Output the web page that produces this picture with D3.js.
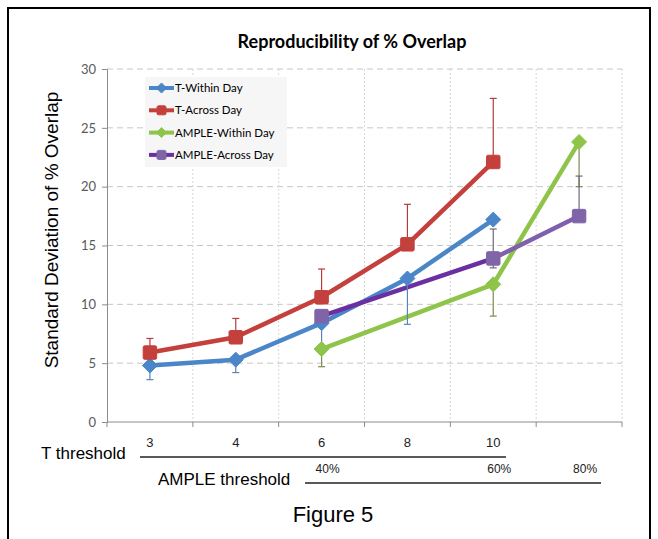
<!DOCTYPE html>
<html><head><meta charset="utf-8">
<script src="https://cdn.jsdelivr.net/npm/d3@7"></script>
<style>
html,body{margin:0;padding:0;background:#fff;}
svg{display:block;}
</style></head>
<body>
<svg id="chart" width="658" height="539"></svg>
<script>
// ---- data ----
const slotCount = 6;
const tLabels = ["3", "4", "6", "8", "10"];
const tSlots = [0, 1, 2, 3, 4];
const ampleLabels = ["40%", "60%", "80%"];
const ampleSlots = [2, 4, 5];
const yTicks = [0, 5, 10, 15, 20, 25, 30];

const tWithin = [4.8, 5.3, 8.4, 12.2, 17.2];
const tWithinMinus = [1.2, 1.1, 2.2, 3.9, 0];
const tAcross = [5.9, 7.2, 10.6, 15.1, 22.1];
const tAcrossPlus = [1.2, 1.6, 2.4, 3.4, 5.4];
const ampleWithin = [6.2, 11.7, 23.8];
const ampleWithinMinus = [1.5, 2.7, 3.8];
const ampleAcross = [9.0, 13.9, 17.5];
const ampleAcrossPlus = [0, 2.5, 3.4];
const ampleAcrossMinus = [0, 0.8, 0];

const seriesNames = ["T-Within Day", "T-Across Day", "AMPLE-Within Day", "AMPLE-Across Day"];

const series = [
  {name: seriesNames[0], slots: tSlots, values: tWithin, plus: null, minus: tWithinMinus,
   line: "#4a86c8", marker: "#4a86c8", err: "#5a84b8", shape: "diamond"},
  {name: seriesNames[1], slots: tSlots, values: tAcross, plus: tAcrossPlus, minus: null,
   line: "#c4403d", marker: "#c4403d", err: "#b83a3a", shape: "square"},
  {name: seriesNames[2], slots: ampleSlots, values: ampleWithin, plus: null, minus: ampleWithinMinus,
   line: "#8fc44a", marker: "#8fc44a", err: "#7f8a50", shape: "diamond"},
  {name: seriesNames[3], slots: ampleSlots, values: ampleAcross, plus: ampleAcrossPlus, minus: ampleAcrossMinus,
   line: "#6a30a2", marker: "#8064a8", err: "#6a6a7a", shape: "square", line2: "#7e60ac"}
];

// ---- layout ----
const svg = d3.select("#chart");
const L = 107, R = 622, T = 69, B = 422;

const x = d3.scaleBand().domain(d3.range(slotCount)).range([L, R]).padding(0);
const cx = i => x(i) + x.bandwidth() / 2;
const y = d3.scaleLinear().domain([0, 30]).range([B, T]);

// outer frame
svg.append("rect").attr("x", 8).attr("y", 8).attr("width", 642).attr("height", 545)
  .attr("fill", "none").attr("stroke", "#000").attr("stroke-width", 2);

// title
svg.append("text").attr("x", 352).attr("y", 48).attr("text-anchor", "middle")
  .attr("font-family", "Lato, 'Open Sans', sans-serif").attr("font-weight", "bold")
  .attr("font-size", 18).attr("fill", "#000").text("Reproducibility of % Overlap");

// gridlines
const grid = svg.append("g");
grid.selectAll("line.h").data(yTicks.filter(d => d > 0)).join("line")
  .attr("x1", L).attr("x2", R).attr("y1", d => y(d)).attr("y2", d => y(d))
  .attr("stroke", "#c6c6c6").attr("stroke-width", 1).attr("stroke-dasharray", "6,4");
grid.selectAll("line.v").data(d3.range(1, slotCount + 1)).join("line")
  .attr("x1", d => d < slotCount ? x(d) : R).attr("x2", d => d < slotCount ? x(d) : R)
  .attr("y1", T).attr("y2", B)
  .attr("stroke", "#d6d6d6").attr("stroke-width", 1).attr("stroke-dasharray", "2,2");

// y axis
const yAxis = svg.append("g").attr("transform", `translate(${L},0)`)
  .call(d3.axisLeft(y).tickValues(yTicks).tickSize(5).tickPadding(6));
yAxis.select(".domain").attr("stroke", "#8c8c8c");
yAxis.selectAll(".tick line").attr("stroke", "#8c8c8c");
yAxis.selectAll(".tick text").attr("font-family", "Lato, sans-serif").attr("font-size", 13).attr("fill", "#595959");

// x axis line and ticks
svg.append("line").attr("x1", L).attr("x2", R).attr("y1", B).attr("y2", B).attr("stroke", "#8c8c8c");
svg.selectAll("line.xt").data(d3.range(0, slotCount + 1)).join("line")
  .attr("x1", d => d < slotCount ? x(d) : R).attr("x2", d => d < slotCount ? x(d) : R)
  .attr("y1", B).attr("y2", B + 5).attr("stroke", "#8c8c8c");

// y axis title
svg.append("text").attr("transform", "translate(58,230) rotate(-90)").attr("text-anchor", "middle")
  .attr("font-family", "'Liberation Sans', Arial, sans-serif").attr("font-size", 19).attr("fill", "#000")
  .text("Standard Deviation of % Overlap");

// series lines
const lineGen = d3.line().x(d => cx(d.slot)).y(d => y(d.v));
series.forEach(s => {
  const pts = s.values.map((v, i) => ({slot: s.slots[i], v}));
  for (let i = 0; i < pts.length - 1; i++) {
    const col = (s.line2 && i === pts.length - 2) ? s.line2 : s.line;
    svg.append("path").datum([pts[i], pts[i + 1]]).attr("d", lineGen)
      .attr("fill", "none").attr("stroke", col).attr("stroke-width", 4.5).attr("stroke-linecap", "round");
  }
});

// error bars
series.forEach(s => {
  s.values.forEach((v, i) => {
    const px = cx(s.slots[i]);
    const lo = s.minus ? v - s.minus[i] : v;
    const hi = s.plus ? v + s.plus[i] : v;
    if (hi === lo) return;
    const g = svg.append("g").attr("stroke", s.err).attr("stroke-width", 1.2);
    g.append("line").attr("x1", px).attr("x2", px).attr("y1", y(hi)).attr("y2", y(lo));
    if (hi > v) g.append("line").attr("x1", px - 3.5).attr("x2", px + 3.5).attr("y1", y(hi)).attr("y2", y(hi));
    if (lo < v) g.append("line").attr("x1", px - 3.5).attr("x2", px + 3.5).attr("y1", y(lo)).attr("y2", y(lo));
  });
});

// markers
function drawMarker(g, shape, px, py, col, r) {
  if (shape === "diamond") {
    g.append("path").attr("d", `M${px},${py - r}L${px + r},${py}L${px},${py + r}L${px - r},${py}Z`)
      .attr("fill", col).attr("stroke", col).attr("stroke-width", 1).attr("stroke-linejoin", "round");
  } else {
    const h = r * 0.9;
    g.append("rect").attr("x", px - h).attr("y", py - h).attr("width", 2 * h).attr("height", 2 * h)
      .attr("rx", 1.5).attr("fill", col).attr("stroke", col).attr("stroke-width", 1);
  }
}
const mk = svg.append("g");
series.forEach(s => {
  s.values.forEach((v, i) => drawMarker(mk, s.shape, cx(s.slots[i]), y(v), s.marker, 7.5));
});

// legend
const lg = svg.append("g");
lg.append("rect").attr("x", 145).attr("y", 77).attr("width", 142).attr("height", 90).attr("fill", "#f6f6f6");
series.forEach((s, i) => {
  const ry = 88 + i * 22.3;
  lg.append("line").attr("x1", 149).attr("x2", 174).attr("y1", ry).attr("y2", ry)
    .attr("stroke", s.line).attr("stroke-width", 4);
  drawMarker(lg, s.shape, 161.5, ry, s.marker, 5);
  lg.append("text").attr("x", 175).attr("y", ry + 4).attr("font-family", "Lato, sans-serif")
    .attr("font-size", 11.5).attr("fill", "#000").text(s.name);
});

// threshold labels under axis
const ff = "'Liberation Sans', Arial, sans-serif";
svg.selectAll("text.tl").data(tLabels).join("text")
  .attr("x", (d, i) => cx(tSlots[i])).attr("y", 447).attr("text-anchor", "middle")
  .attr("font-family", ff).attr("font-size", 13).attr("fill", "#222").text(d => d);
svg.append("text").attr("x", 41).attr("y", 459).attr("font-family", ff).attr("font-size", 17)
  .attr("fill", "#000").text("T threshold");
svg.append("line").attr("x1", 140).attr("x2", 506).attr("y1", 457).attr("y2", 457)
  .attr("stroke", "#222").attr("stroke-width", 1.6);

svg.selectAll("text.al").data(ampleLabels).join("text")
  .attr("x", (d, i) => cx(ampleSlots[i]) + 6).attr("y", 473).attr("text-anchor", "middle")
  .attr("font-family", ff).attr("font-size", 12).attr("fill", "#222").text(d => d);
svg.append("text").attr("x", 158).attr("y", 485).attr("font-family", ff).attr("font-size", 17)
  .attr("fill", "#000").text("AMPLE threshold");
svg.append("line").attr("x1", 305).attr("x2", 601).attr("y1", 483).attr("y2", 483)
  .attr("stroke", "#222").attr("stroke-width", 1.6);

svg.append("text").attr("x", 333).attr("y", 522).attr("text-anchor", "middle").attr("font-family", ff)
  .attr("font-size", 22).attr("fill", "#000").text("Figure 5");
</script>
</body></html>
